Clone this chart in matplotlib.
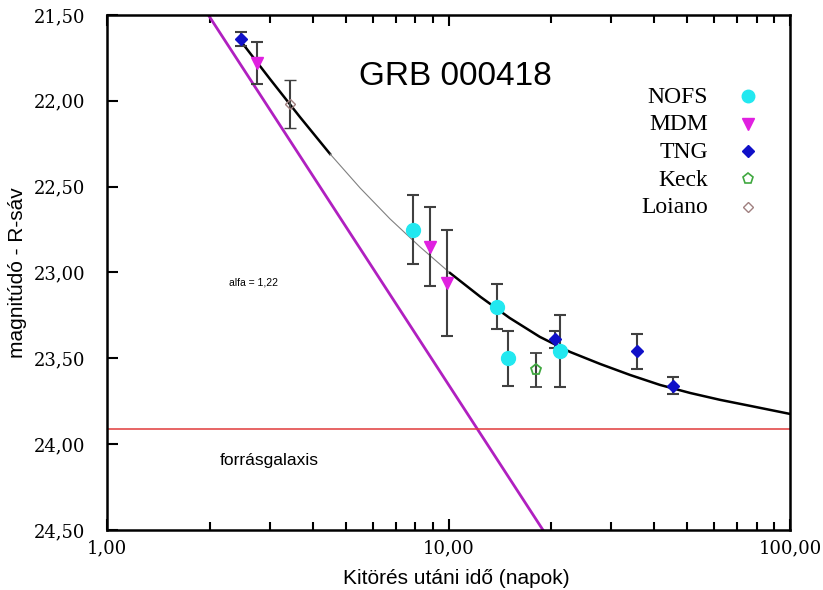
import numpy as np
import matplotlib
matplotlib.use("Agg")
import matplotlib.pyplot as plt

# observations (days after burst, R magnitude, error)
nofs_t = [7.85, 13.9, 14.9, 21.2]
nofs_m = [22.75, 23.20, 23.50, 23.46]
nofs_e = [0.20, 0.13, 0.16, 0.21]

mdm_t = [2.74, 8.83, 9.88]
mdm_m = [21.78, 22.85, 23.06]
mdm_e = [0.12, 0.23, 0.31]

tng_t = [2.46, 20.5, 35.6, 45.5]
tng_m = [21.64, 23.39, 23.46, 23.66]
tng_e = [0.04, 0.05, 0.10, 0.05]

keck_t = [18.0]
keck_m = [23.57]
keck_e = [0.10]

loiano_t = [3.43]
loiano_m = [22.02]
loiano_e = [0.14]

# fitted light curve
fit_t = [2.45, 3.00, 3.67, 4.50, 5.51, 6.74, 8.25, 10.1, 12.4, 15.1, 18.5,
         22.7, 27.8, 34.0, 41.6, 51.0, 62.4, 76.4, 100.0]
fit_m = [21.646, 21.873, 22.094, 22.310, 22.508, 22.688, 22.851, 23.003, 23.142,
         23.265, 23.375, 23.463, 23.533, 23.597, 23.655, 23.702, 23.742, 23.777, 23.824]

# power law slope line (alfa = 1,22)
slope_t = [1.98, 18.9]
slope_m = [21.5, 24.5]

host_mag = 23.91

yticks = [21.5, 22.0, 22.5, 23.0, 23.5, 24.0, 24.5]
xticks = [1, 10, 100]

serif = "DejaVu Serif"
sans = "Liberation Sans"

fig = plt.figure(figsize=(8.23, 5.90), dpi=100)
ax = fig.add_axes([0.130, 0.1017, 0.830, 0.873])

ax.set_xscale("log")
ax.set_xlim(1, 100)
ax.set_ylim(24.5, 21.5)

# fit curve: thick - thin - thick
ft = np.array(fit_t)
fm = np.array(fit_m)
a = ft <= 4.5
b = (ft >= 4.5) & (ft <= 10.1)
c = ft >= 10.1
ax.plot(ft[a], fm[a], color="black", lw=1.8, zorder=3)
ax.plot(ft[b], fm[b], color="#808080", lw=0.8, zorder=3)
ax.plot(ft[c], fm[c], color="black", lw=1.8, zorder=3)

ax.plot(slope_t, slope_m, color="#b020c0", lw=2.0, zorder=2)
ax.axhline(host_mag, color="#e03a3a", lw=1.1, zorder=2)

eb = dict(ecolor="#404040", elinewidth=1.5, capsize=4.5, capthick=1.5, linestyle="none", zorder=4)
ax.errorbar(nofs_t, nofs_m, yerr=nofs_e, marker="o", ms=10, mfc="#22e8f0", mec="#22e8f0", **eb)
ax.errorbar(mdm_t, mdm_m, yerr=mdm_e, marker="v", ms=8, mfc="#e020e0", mec="#e020e0", **eb)
ax.errorbar(tng_t, tng_m, yerr=tng_e, marker="D", ms=6.5, mfc="#1010c8", mec="#1010c8", **eb)
ax.errorbar(keck_t, keck_m, yerr=keck_e, marker="p", ms=8, mfc="none", mec="#40a840", mew=1.3, **eb)
ax.errorbar(loiano_t, loiano_m, yerr=loiano_e, marker="D", ms=5, mfc="none", mec="#a08080", mew=1.0, **eb)

# legend drawn by hand: labels right aligned, markers to the right
leg_names = ["NOFS", "MDM", "TNG", "Keck", "Loiano"]
leg_style = [
    dict(marker="o", ms=9, mfc="#22e8f0", mec="#22e8f0"),
    dict(marker="v", ms=8, mfc="#e020e0", mec="#e020e0"),
    dict(marker="D", ms=6, mfc="#1010c8", mec="#1010c8"),
    dict(marker="p", ms=8, mfc="none", mec="#40a840", mew=1.2),
    dict(marker="D", ms=5, mfc="none", mec="#a08080", mew=1.0),
]
for i, (name, st) in enumerate(zip(leg_names, leg_style)):
    yy = 0.84 - i * 0.0535
    ax.text(0.880, yy, name, transform=ax.transAxes, ha="right", va="center",
            family="Liberation Serif", fontsize=17)
    ax.plot([0.938], [yy + 0.002], transform=ax.transAxes, linestyle="none", **st)

ax.text(0.51, 0.88, "GRB 000418", transform=ax.transAxes, ha="center", va="center",
        family=sans, fontsize=24)
ax.text(0.2138, 0.48, "alfa = 1,22", transform=ax.transAxes, ha="center", va="center",
        family=sans, fontsize=7.5)
ax.text(0.165, 0.134, "forrásgalaxis", transform=ax.transAxes, ha="left", va="center",
        family=sans, fontsize=12.5)

ax.set_yticks(yticks)
ax.set_yticklabels([f"{v:.2f}".replace(".", ",") for v in yticks], family=serif, fontsize=13)
ax.set_xticks(xticks)
ax.set_xticklabels([f"{v:.2f}".replace(".", ",") for v in xticks], family=serif, fontsize=13)
ax.tick_params(axis="y", which="both", direction="in", length=8, width=1.5, pad=15.5)
ax.tick_params(axis="x", which="major", direction="in", length=8, width=1.5, pad=7, top=True)
ax.tick_params(axis="x", which="minor", direction="in", length=6, width=1.5, top=True)

for s in ax.spines.values():
    s.set_linewidth(1.8)

ax.set_xlabel("Kitörés utáni idő (napok)", family=sans, fontsize=15)
ax.xaxis.set_label_coords(0.511, -0.076)
ax.set_ylabel("magnitúdó - R-sáv", family=sans, fontsize=15)
ax.yaxis.set_label_coords(-0.117, 0.5)

fig.savefig("out.png", dpi=100)
